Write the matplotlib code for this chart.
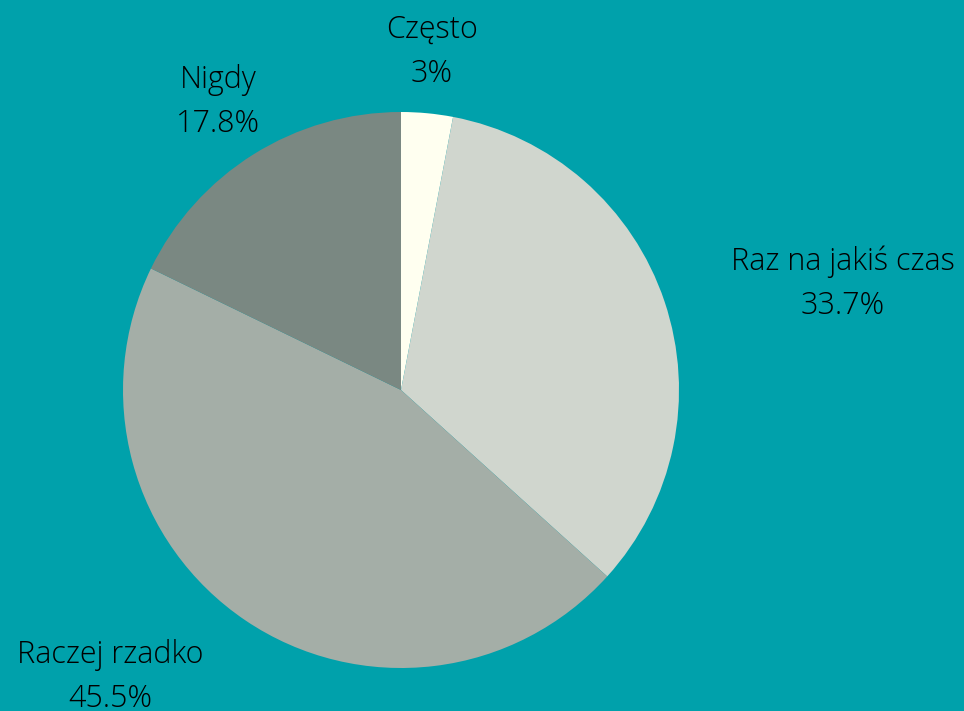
import matplotlib.pyplot as plt

# data
labels = ['Często', 'Raz na jakiś czas', 'Raczej rzadko', 'Nigdy']
values = [3.0, 33.7, 45.5, 17.8]
colors = ['#FFFFF0', '#D0D6CE', '#A4AEA7', '#7A8882']

# label positions (pixel coords, origin top-left)
label_pos = [(432, 52), (843, 284), (110, 677), (218, 102)]

bg = '#00A1AB'
W, H = 964, 711

fig = plt.figure(figsize=(W / 100, H / 100), dpi=100, facecolor=bg)
ax = fig.add_axes([0, 0, 1, 1])
ax.set_facecolor(bg)

ax.pie(values, colors=colors, startangle=90, counterclock=False,
       center=(401, H - 390), radius=278, normalize=True,
       wedgeprops=dict(linewidth=0))

ax.set_xlim(0, W)
ax.set_ylim(0, H)
ax.set_aspect('equal')
ax.axis('off')

for lab, v, (x, y) in zip(labels, values, label_pos):
    txt = f'{v:g}%'
    ax.text(x, H - y, f'{lab}\n{txt}', ha='center', va='center',
            fontsize=22, family='Open Sans', fontweight='light',
            color='#000000', linespacing=1.5)

fig.savefig('out.png', dpi=100, facecolor=bg)
